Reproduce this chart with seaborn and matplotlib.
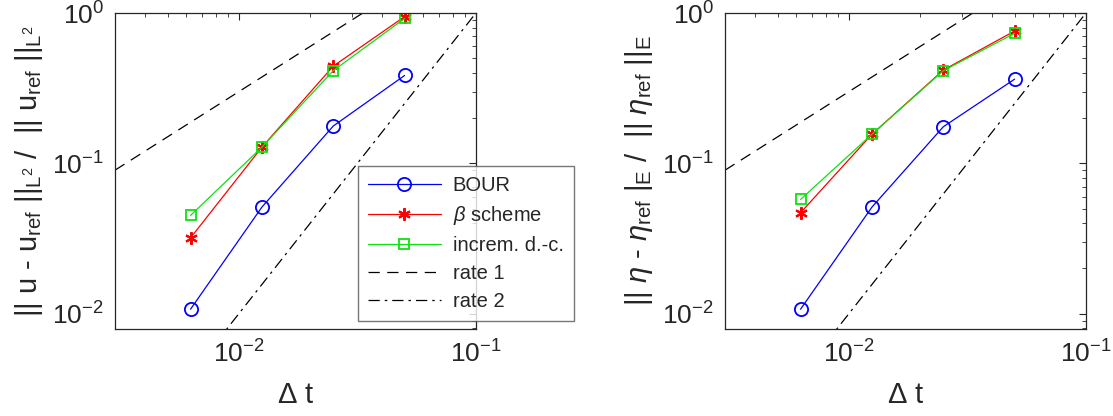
import matplotlib
matplotlib.use('Agg')
import matplotlib.pyplot as plt
import seaborn as sns
import numpy as np

# time steps
dt = [0.05, 0.025, 0.0125, 0.00625]

# relative L2 error in u
u_bour = [0.384, 0.177, 0.0511, 0.0107]
u_beta = [0.946, 0.443, 0.128, 0.0319]
u_incr = [0.920, 0.413, 0.128, 0.0450]

# relative energy error in eta
eta_bour = [0.363, 0.175, 0.0511, 0.0107]
eta_beta = [0.759, 0.417, 0.156, 0.0469]
eta_incr = [0.732, 0.413, 0.156, 0.0575]

# reference slopes (end points)
rate_dt = [0.003, 0.1]
rate1 = [0.09, 3.0]
rate2 = [0.0009, 1.0]

labels = ['BOUR', r'$\beta$ scheme', 'increm. d.-c.', 'rate 1', 'rate 2']

sns.set_style('white')
plt.rcParams['font.family'] = ['Liberation Sans', 'DejaVu Sans']
plt.rcParams['mathtext.fontset'] = 'custom'
plt.rcParams['mathtext.rm'] = 'Liberation Sans'
plt.rcParams['mathtext.it'] = 'Liberation Sans:italic'
plt.rcParams['mathtext.bf'] = 'Liberation Sans:bold'

fig = plt.figure(figsize=(11.13, 4.16), dpi=100)
ax1 = fig.add_axes([0.1033, 0.2091, 0.3243, 0.7596])
ax2 = fig.add_axes([0.6514, 0.2091, 0.3243, 0.7596])

blue = '#0000ff'
red = '#ff0000'
green = '#10e010'


def draw(ax, bour, beta, incr):
    sns.lineplot(x=dt, y=bour, ax=ax, color=blue, lw=0.9, marker='o', ms=9.5,
                 markerfacecolor='none', markeredgecolor=blue, markeredgewidth=1.3,
                 label=labels[0])
    sns.lineplot(x=dt, y=beta, ax=ax, color=red, lw=0.9, marker=(6, 2, 0), ms=9,
                 markeredgecolor=red, markeredgewidth=1.5, label=labels[1])
    sns.lineplot(x=dt, y=incr, ax=ax, color=green, lw=0.9, marker='s', ms=6.5,
                 markerfacecolor='none', markeredgecolor=green, markeredgewidth=1.3,
                 label=labels[2])
    sns.lineplot(x=rate_dt, y=rate1, ax=ax, color='black', lw=0.9,
                 linestyle=(0, (9, 6)), label=labels[3])
    sns.lineplot(x=rate_dt, y=rate2, ax=ax, color='black', lw=0.9,
                 linestyle=(0, (9, 4, 2, 4)), label=labels[4])
    ax.set_xscale('log')
    ax.set_yscale('log')
    ax.set_xlim(0.003, 0.1)
    ax.set_ylim(0.0079, 1.0)
    ax.set_xticks([0.01, 0.1])
    ax.set_yticks([0.01, 0.1, 1.0])
    ax.tick_params(which='both', direction='in', top=True, right=True,
                   colors='#262626', labelsize=19)
    ax.tick_params(which='major', length=5, pad=8)
    ax.tick_params(which='minor', length=3)
    for s in ax.spines.values():
        s.set_color('#262626')
        s.set_linewidth(0.9)
    ax.set_xlabel(r'$\Delta$ t', fontsize=21, labelpad=10)
    ax.get_legend().remove()


draw(ax1, u_bour, u_beta, u_incr)
draw(ax2, eta_bour, eta_beta, eta_incr)

ax1.set_ylabel(r'|| u - u$_{\mathrm{ref}}$ ||$_{\mathrm{L}^2}$ /  || u$_{\mathrm{ref}}$ ||$_{\mathrm{L}^2}$',
               fontsize=21, labelpad=5)
ax2.set_ylabel(r'|| $\eta$ - $\eta_{\mathrm{ref}}$ |$_{\mathrm{E}}$ /  || $\eta_{\mathrm{ref}}$ ||$_{\mathrm{E}}$',
               fontsize=21, labelpad=5)

handles, _ = ax1.get_legend_handles_labels()
leg = fig.legend(handles, labels, loc='upper left', bbox_to_anchor=(358 / 1113, 1 - 166 / 416),
                 borderaxespad=0, fontsize=14.5, frameon=True, fancybox=False,
                 handlelength=3.6, labelspacing=0.45, borderpad=0.5, handletextpad=0.6)
leg.get_frame().set_edgecolor('#555555')
leg.get_frame().set_linewidth(1.0)

fig.savefig('out.png', dpi=100, facecolor='white')
